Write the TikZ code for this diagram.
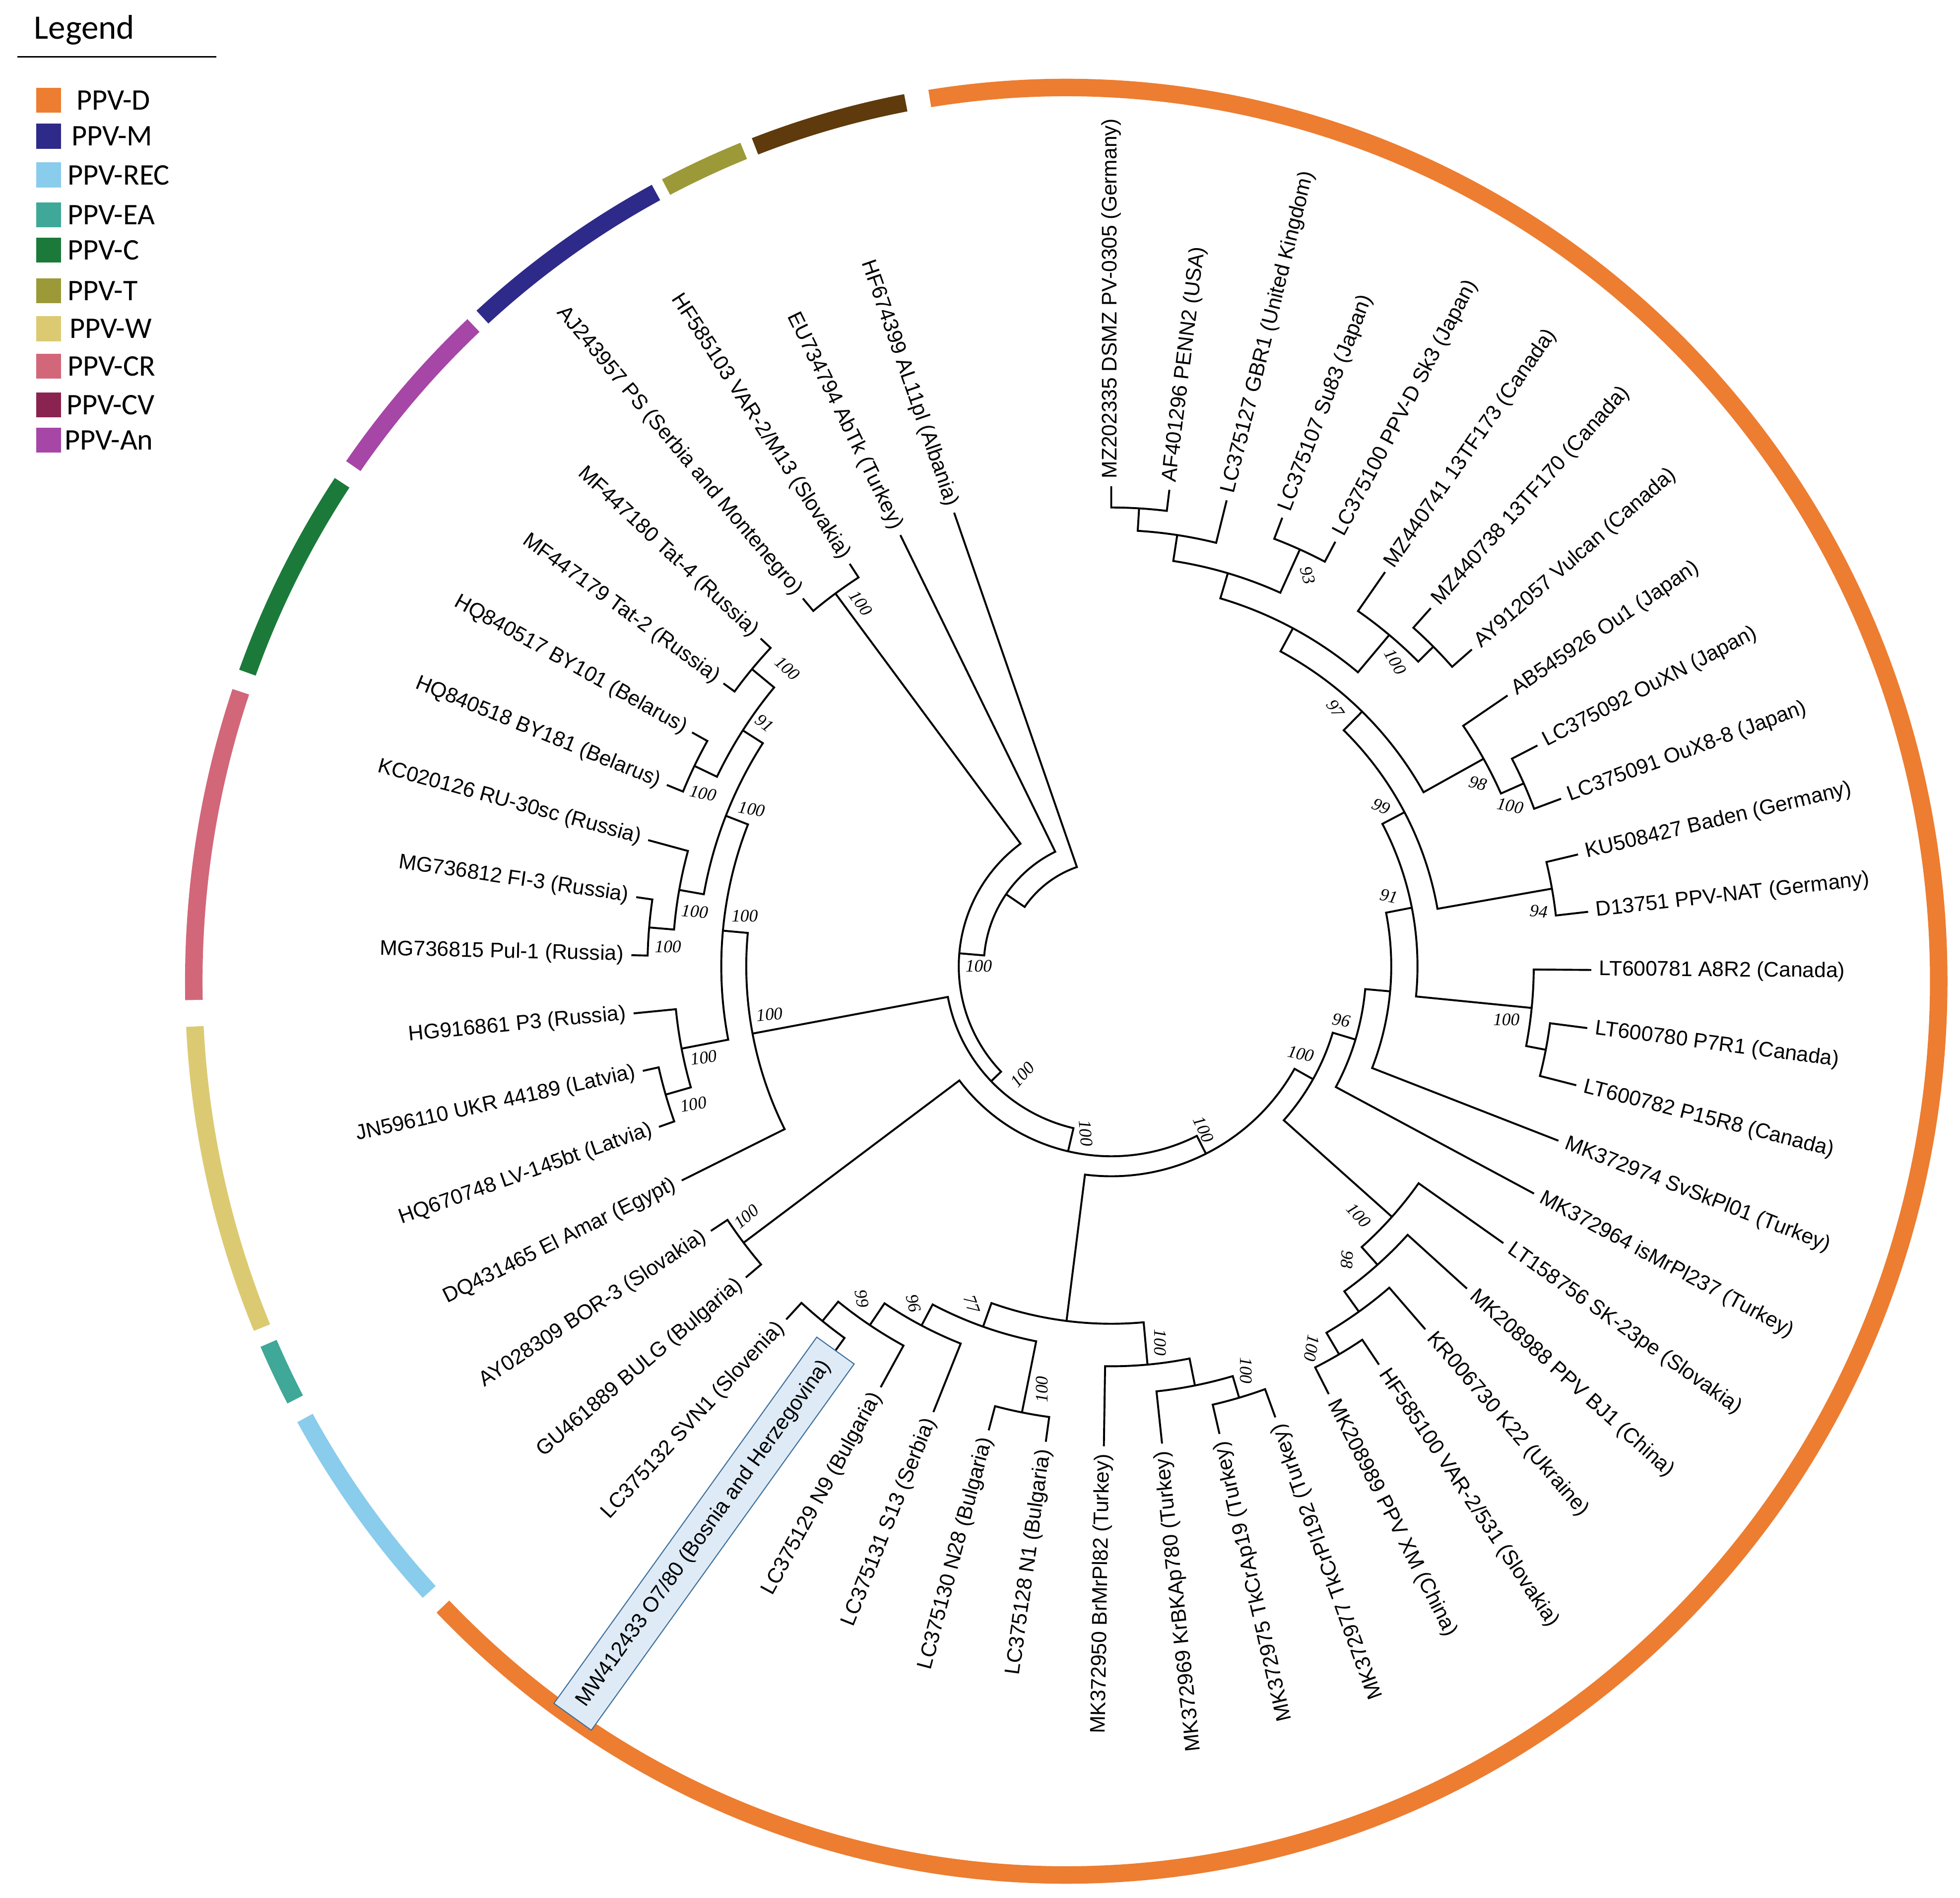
\documentclass[tikz,border=0pt]{standalone}
\usepackage{fontspec}
\setmainfont{Liberation Sans}
\newfontfamily\legfont{Carlito}
\newfontfamily\bsfont{Liberation Serif}
\usepackage{tikz}
\usetikzlibrary{calc,positioning}

\definecolor{ppvD}{HTML}{ED7D31}
\definecolor{ppvM}{HTML}{2E2A8A}
\definecolor{ppvREC}{HTML}{89CCEC}
\definecolor{ppvEA}{HTML}{3FA898}
\definecolor{ppvC}{HTML}{1B7A3A}
\definecolor{ppvT}{HTML}{9C9A38}
\definecolor{ppvW}{HTML}{DCCA72}
\definecolor{ppvCR}{HTML}{D26779}
\definecolor{ppvCV}{HTML}{8A2350}
\definecolor{ppvAn}{HTML}{A646A6}
\definecolor{ringbrown}{HTML}{5E3A0C}
\definecolor{boxfill}{HTML}{DEEBF7}
\definecolor{boxline}{HTML}{41719C}

\tikzset{
  br/.style={line width=1.1pt},
  lbR/.style={anchor=west, inner sep=0pt, font=\fontsize{12}{14}\selectfont},
  lbL/.style={anchor=east, inner sep=0pt, font=\fontsize{12}{14}\selectfont},
  bsl/.style={inner sep=0pt, font=\bsfont\itshape\fontsize{10}{11}\selectfont},
  seg/.style={line width=0.35cm},
  swatch/.style={minimum size=0.5cm, inner sep=0pt},
  legtxt/.style={anchor=west, inner sep=0pt, font=\legfont\fontsize{17}{19}\selectfont},
  hilite/.style={draw=boxline, fill=boxfill, line width=0.6pt, inner xsep=8.5pt, inner ysep=7.5pt},
}

% clade: radius, angle/radius of first child, angle/radius of second child
\newcommand{\nd}[5]{\draw[br] (#2:#3) -- (#2:#1) arc[start angle=#2, end angle=#4, radius=#1] -- (#4:#5);}
\newcommand{\lfR}[2]{\pgfmathsetmacro\ang{90-6.957*(#1-1)}\node[lbR, rotate=\ang] (l#1) at (\ang:390) {#2};}
\newcommand{\lfL}[2]{\pgfmathsetmacro\ang{90-6.957*(#1-1)}\node[lbL, rotate=\ang+180] (l#1) at (\ang:390) {#2};}

\begin{document}
\begin{tikzpicture}[x=0.025cm, y=0.025cm]
\useasboundingbox (0,0) rectangle (1568,-1518);
\coordinate (T) at (889,-773);
\coordinate (O) at (853,-785);

% legend
\node[anchor=west, inner sep=0pt, font=\legfont\fontsize{19.5}{22}\selectfont] (legtitle) at (27,-24) {Legend};
\draw[line width=0.9pt] (14,-45.5) -- (173,-45.5);
\foreach \c/\yy/\xx/\t in {ppvD/80.3/61/PPV-D, ppvM/109/57/PPV-M, ppvREC/140/54/PPV-REC, ppvEA/172/54/PPV-EA, ppvC/200/54/PPV-C, ppvT/232.5/54/PPV-T, ppvW/263/55.5/PPV-W, ppvCR/293/54/PPV-CR, ppvCV/324/53/PPV-CV, ppvAn/352/51.5/PPV-An}{
  \node[swatch, fill=\c] (sw-\t) at (39,-\yy) {};
  \node[legtxt] (lt-\t) at (\xx,-\yy) {\t};
}

% coloured ring
\begin{scope}[shift={(O)}]
\draw[seg, ppvD] (-135.6:698 and 715) arc[start angle=-135.6, end angle=99.0, x radius=698, y radius=715];
\draw[seg, ringbrown] (100.6:698 and 715) arc[start angle=100.6, end angle=110.9, x radius=698, y radius=715];
\draw[seg, ppvT] (111.7:698 and 715) arc[start angle=111.7, end angle=117.3, x radius=698, y radius=715];
\draw[seg, ppvM] (118.05:698 and 715) arc[start angle=118.05, end angle=132.0, x radius=698, y radius=715];
\draw[seg, ppvAn] (132.8:698 and 715) arc[start angle=132.8, end angle=144.8, x radius=698, y radius=715];
\draw[seg, ppvC] (146.1:698 and 715) arc[start angle=146.1, end angle=159.8, x radius=698, y radius=715];
\draw[seg, ppvCR] (161.1:698 and 715) arc[start angle=161.1, end angle=181.2, x radius=698, y radius=715];
\draw[seg, ppvW] (182.9:698 and 715) arc[start angle=182.9, end angle=202.8, x radius=698, y radius=715];
\draw[seg, ppvEA] (203.9:698 and 715) arc[start angle=203.9, end angle=207.9, x radius=698, y radius=715];
\draw[seg, ppvREC] (209.25:698 and 715) arc[start angle=209.25, end angle=223.1, x radius=698, y radius=715];
\end{scope}

\begin{scope}[shift={(T)}]
% PPV-D clades
\nd{367}{90}{384}{83.043}{384}
\nd{349}{86.52}{367}{76.086}{384}
\nd{366}{69.129}{384}{62.172}{384}
\nd{328}{81.30}{349}{65.65}{366}
\nd{363}{48.258}{384}{41.301}{384}
\nd{346}{55.215}{384}{44.78}{363}
\nd{307}{73.48}{328}{50.00}{346}
\nd{361}{27.387}{384}{20.430}{384}
\nd{341}{34.344}{384}{23.91}{361}
\nd{286}{61.74}{307}{29.13}{341}
\nd{358}{13.473}{384}{6.516}{384}
\nd{265}{45.43}{286}{9.99}{358}
\nd{354}{-7.398}{384}{-14.355}{384}
\nd{338}{-0.441}{384}{-10.88}{354}
\nd{245}{27.71}{265}{-5.66}{338}
\nd{224}{11.03}{245}{-21.312}{384}
\nd{204}{-5.14}{224}{-28.269}{384}
\nd{360}{-56.097}{384}{-63.054}{384}
\nd{340}{-49.14}{384}{-59.58}{360}
\nd{320}{-42.183}{384}{-54.36}{340}
\nd{301}{-35.226}{384}{-48.27}{320}
\nd{185}{-16.70}{204}{-41.75}{301}
% bottom clades
\nd{360}{-70.011}{384}{-76.968}{384}
\nd{342}{-83.925}{384}{-73.49}{360}
\nd{320}{-90.882}{384}{-78.71}{342}
\nd{364}{-97.839}{384}{-104.796}{384}
\nd{366}{-125.667}{384}{-132.624}{384}
\nd{346}{-129.15}{366}{-118.71}{384}
\nd{325}{-123.93}{346}{-111.753}{384}
\nd{306}{-117.84}{325}{-101.32}{364}
\nd{286}{-109.58}{306}{-84.80}{320}
% left clades
\nd{373}{-216.108}{384}{-223.065}{384}
\nd{370}{-202.194}{384}{-209.151}{384}
\nd{350}{-219.59}{373}{-205.67}{370}
\nd{371}{-181.323}{384}{-188.28}{384}
\nd{351}{-195.237}{384}{-184.80}{371}
\nd{331}{-212.63}{350}{-190.02}{351}
\nd{371}{-160.452}{384}{-167.409}{384}
\nd{350}{-174.366}{384}{-163.93}{371}
\nd{312}{-201.33}{331}{-169.15}{350}
\nd{292}{-185.24}{312}{-153.495}{384}
\nd{371}{-230.022}{384}{-236.979}{384}
\nd{368}{-139.581}{384}{-146.538}{384}
% backbone
\nd{168}{-97.19}{286}{-29.23}{185}
\nd{152}{-143.06}{368}{-63.21}{168}
\nd{133}{-169.37}{292}{-103.14}{152}
\nd{122}{-233.50}{371}{-136.26}{133}
\nd{102}{-243.936}{384}{-184.88}{122}
\nd{84}{-250.893}{384}{-214.41}{102}

% bootstrap values
\node[bsl, rotate=-75] (b1) at (63.3:350) {93};
\node[bsl, rotate=-60] (b2) at (47:333) {100};
\node[bsl, rotate=-55] (b3) at (49:273) {97};
\node[bsl, rotate=-15] (b4) at (26.5:328) {98};
\node[bsl, rotate=-10] (b5) at (21.9:344) {100};
\node[bsl, rotate=-25] (b6) at (30.6:251) {99};
\node[bsl, rotate=-5] (b7) at (7.3:345) {94};
\node[bsl, rotate=-12] (b8) at (14.2:229) {91};
\node[bsl] (b9) at (-7.7:319) {100};
\node[bsl, rotate=-10] (b10) at (-13.2:189) {96};
\node[bsl, rotate=-12] (b11) at (-24.8:167) {100};
\node[bsl, rotate=-48] (b12) at (-45.2:281) {100};
\node[bsl, rotate=-95] (b13) at (-51.2:301) {98};
\node[bsl, rotate=-100] (b14) at (-62.3:345) {100};
\node[bsl, rotate=-90] (b15) at (-71.54:341) {100};
\node[bsl, rotate=-90] (b16) at (-82.6:303.5) {100};
\node[bsl, rotate=90] (b17) at (-99.3:343) {100};
\node[bsl, rotate=-70] (b18) at (-112.4:292.5) {77};
\node[bsl, rotate=-75] (b19) at (-120.4:312.7) {96};
\node[bsl, rotate=-80] (b20) at (-126.9:332.5) {99};
\node[bsl, rotate=40] (b21) at (-145.56:354) {100};
\node[bsl, rotate=5] (b22) at (-171.97:276) {100};
\node[bsl] (b23) at (-187.84:296) {100};
\node[bsl, rotate=8] (b24) at (-167.35:334) {100};
\node[bsl, rotate=10] (b25) at (-161.7:352) {100};
\node[bsl] (b26) at (-182.5:355) {100};
\node[bsl, rotate=-5] (b27) at (-187.5:336) {100};
\node[bsl, rotate=-10] (b28) at (-203.63:314) {100};
\node[bsl, rotate=-12] (b29) at (-202.97:354.7) {100};
\node[bsl, rotate=-38] (b30) at (-215.04:339) {91};
\node[bsl, rotate=-42] (b31) at (-222.6:352) {100};
\node[bsl, rotate=-55] (b32) at (-235.4:353) {100};
\node[bsl] (b33) at (180:106) {100};
\node[bsl, rotate=48] (b34) at (-129.3:112) {100};
\node[bsl, rotate=-85] (b35) at (-98.7:135) {100};
\node[bsl, rotate=-65] (b36) at (-60.5:150) {100};

% isolates
\lfR{1}{MZ202335 DSMZ PV-0305 (Germany)}
\lfR{2}{AF401296 PENN2 (USA)}
\lfR{3}{LC375127 GBR1 (United Kingdom)}
\lfR{4}{LC375107 Su83 (Japan)}
\lfR{5}{LC375100 PPV-D Sk3 (Japan)}
\lfR{6}{MZ440741 13TF173 (Canada)}
\lfR{7}{MZ440738 13TF170 (Canada)}
\lfR{8}{AY912057 Vulcan (Canada)}
\lfR{9}{AB545926 Ou1 (Japan)}
\lfR{10}{LC375092 OuXN (Japan)}
\lfR{11}{LC375091 OuX8-8 (Japan)}
\lfR{12}{KU508427 Baden (Germany)}
\lfR{13}{D13751 PPV-NAT (Germany)}
\lfR{14}{LT600781 A8R2 (Canada)}
\lfR{15}{LT600780 P7R1 (Canada)}
\lfR{16}{LT600782 P15R8 (Canada)}
\lfR{17}{MK372974 SvSkPl01 (Turkey)}
\lfR{18}{MK372964 isMrPl237 (Turkey)}
\lfR{19}{LT158756 SK-23pe (Slovakia)}
\lfR{20}{MK208988 PPV BJ1 (China)}
\lfR{21}{KR006730 K22 (Ukraine)}
\lfR{22}{HF585100 VAR-2/531 (Slovakia)}
\lfR{23}{MK208989 PPV XM (China)}
\lfL{24}{MK372977 TkCrPl192 (Turkey)}
\lfL{25}{MK372975 TkCrAp19 (Turkey)}
\lfL{26}{MK372969 KrBKAp780 (Turkey)}
\lfL{27}{MK372950 BrMrPl82 (Turkey)}
\lfL{28}{LC375128 N1 (Bulgaria)}
\lfL{29}{LC375130 N28 (Bulgaria)}
\lfL{30}{LC375131 S13 (Serbia)}
\lfL{31}{LC375129 N9 (Bulgaria)}
\pgfmathsetmacro\ang{90-6.957*31}
\node[lbL, hilite, rotate=\ang+180] (l32) at (\ang:378) {MW412433 O7/80 (Bosnia and Herzegovina)};
\lfL{33}{LC375132 SVN1 (Slovenia)}
\lfL{34}{GU461889 BULG (Bulgaria)}
\lfL{35}{AY028309 BOR-3 (Slovakia)}
\lfL{36}{DQ431465 El Amar (Egypt)}
\lfL{37}{HQ670748 LV-145bt (Latvia)}
\lfL{38}{JN596110 UKR 44189 (Latvia)}
\lfL{39}{HG916861 P3 (Russia)}
\lfL{40}{MG736815 Pul-1 (Russia)}
\lfL{41}{MG736812 FI-3 (Russia)}
\lfL{42}{KC020126 RU-30sc (Russia)}
\lfL{43}{HQ840518 BY181 (Belarus)}
\lfL{44}{HQ840517 BY101 (Belarus)}
\lfL{45}{MF447179 Tat-2 (Russia)}
\lfL{46}{MF447180 Tat-4 (Russia)}
\lfL{47}{AJ243957 PS (Serbia and Montenegro)}
\lfL{48}{HF585103 VAR-2/M13 (Slovakia)}
\lfL{49}{EU734794 AbTk (Turkey)}
\lfL{50}{HF674399 AL11pl (Albania)}
\end{scope}
\end{tikzpicture}
\end{document}
